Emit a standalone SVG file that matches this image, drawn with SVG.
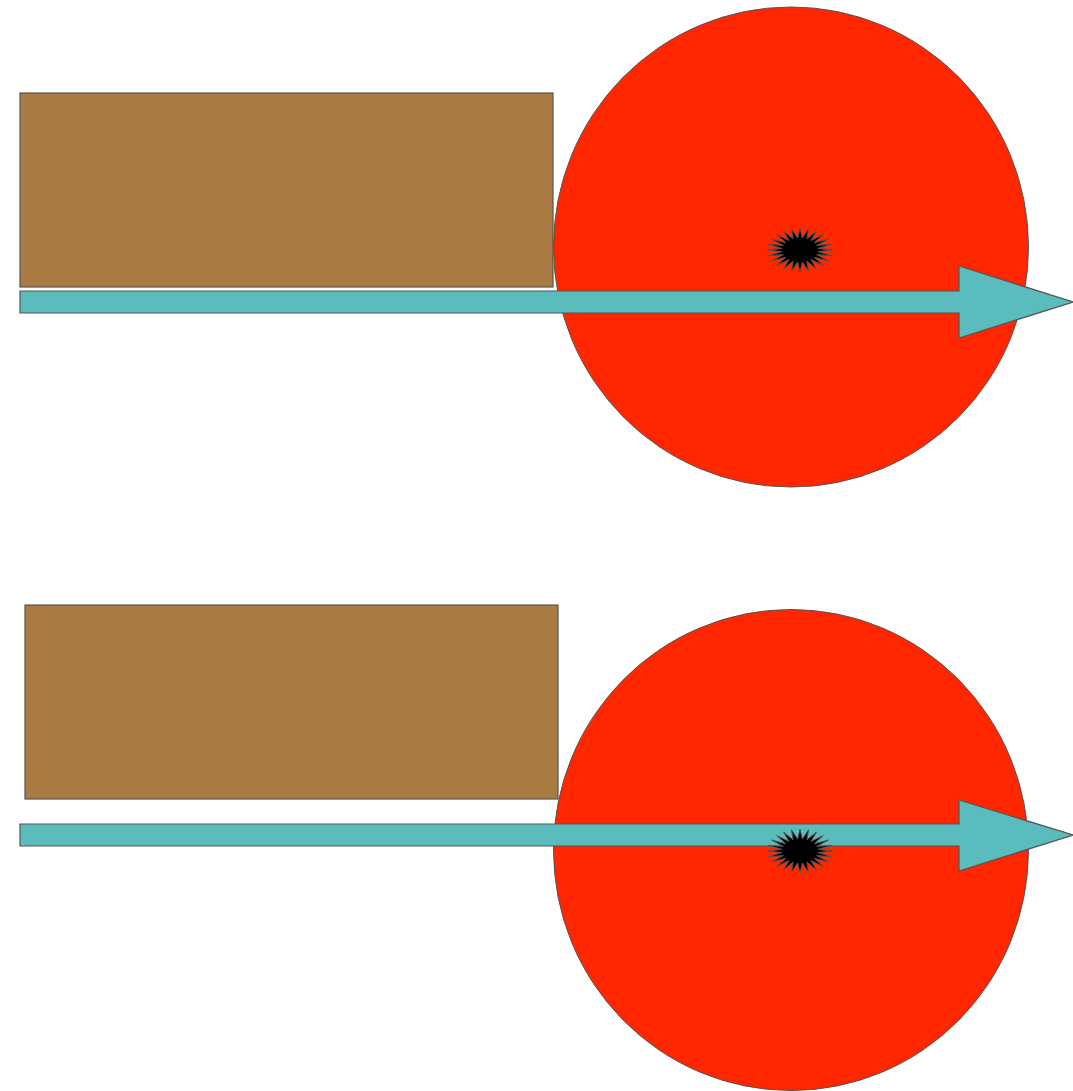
<svg xmlns="http://www.w3.org/2000/svg" xmlns:xlink="http://www.w3.org/1999/xlink" width="1073" height="1091" viewBox="0 0 1073 1091">
<style>
.circ{fill:#FF2600;stroke:#555;stroke-width:1}
.box{fill:#A97B42;stroke:#555;stroke-width:1.2}
.arr{fill:#5BBCBE;stroke:#555;stroke-width:1.2}
.star{fill:#000;stroke:#555;stroke-width:1}
</style>
<defs>
<polygon id="starShape" points="33,0 17.85,1.57 31.87,5.69 16.63,4.59 28.58,11 14.28,7.31 23.33,15.56 10.96,9.52 16.5,19.05 6.89,11.09 8.54,21.25 2.35,11.9 0,22 -2.35,11.9 -8.54,21.25 -6.89,11.09 -16.5,19.05 -10.96,9.52 -23.33,15.56 -14.28,7.31 -28.58,11 -16.63,4.59 -31.87,5.69 -17.85,1.57 -33,0 -17.85,-1.57 -31.87,-5.69 -16.63,-4.59 -28.58,-11 -14.28,-7.31 -23.33,-15.56 -10.96,-9.52 -16.5,-19.05 -6.89,-11.09 -8.54,-21.25 -2.35,-11.9 0,-22 2.35,-11.9 8.54,-21.25 6.89,-11.09 16.5,-19.05 10.96,-9.52 23.33,-15.56 14.28,-7.31 28.58,-11 16.63,-4.59 31.87,-5.69 17.85,-1.57"/>
</defs>
<g id="scene-top">
<g id="circle-top"><ellipse class="circ" cx="791" cy="247" rx="237.5" ry="240"/></g>
<g id="rect-top"><rect class="box" x="20" y="93" width="533" height="194"/></g>
<g id="arrow-top"><polygon class="arr" points="20,291 959,291 959,266 1073,302 959,338 959,313 20,313"/></g>
<g id="star-top"><use xlink:href="#starShape" class="star" transform="translate(800,250)"/></g>
</g>
<g id="scene-bottom">
<g id="circle-bottom"><ellipse class="circ" cx="791" cy="850" rx="237.5" ry="240.5"/></g>
<g id="rect-bottom"><rect class="box" x="25" y="605" width="533" height="194"/></g>
<g id="arrow-bottom"><polygon class="arr" points="20,824 959,824 959,800 1073,835 959,871 959,846 20,846"/></g>
<g id="star-bottom"><use xlink:href="#starShape" class="star" transform="translate(800,851)"/></g>
</g>
</svg>
